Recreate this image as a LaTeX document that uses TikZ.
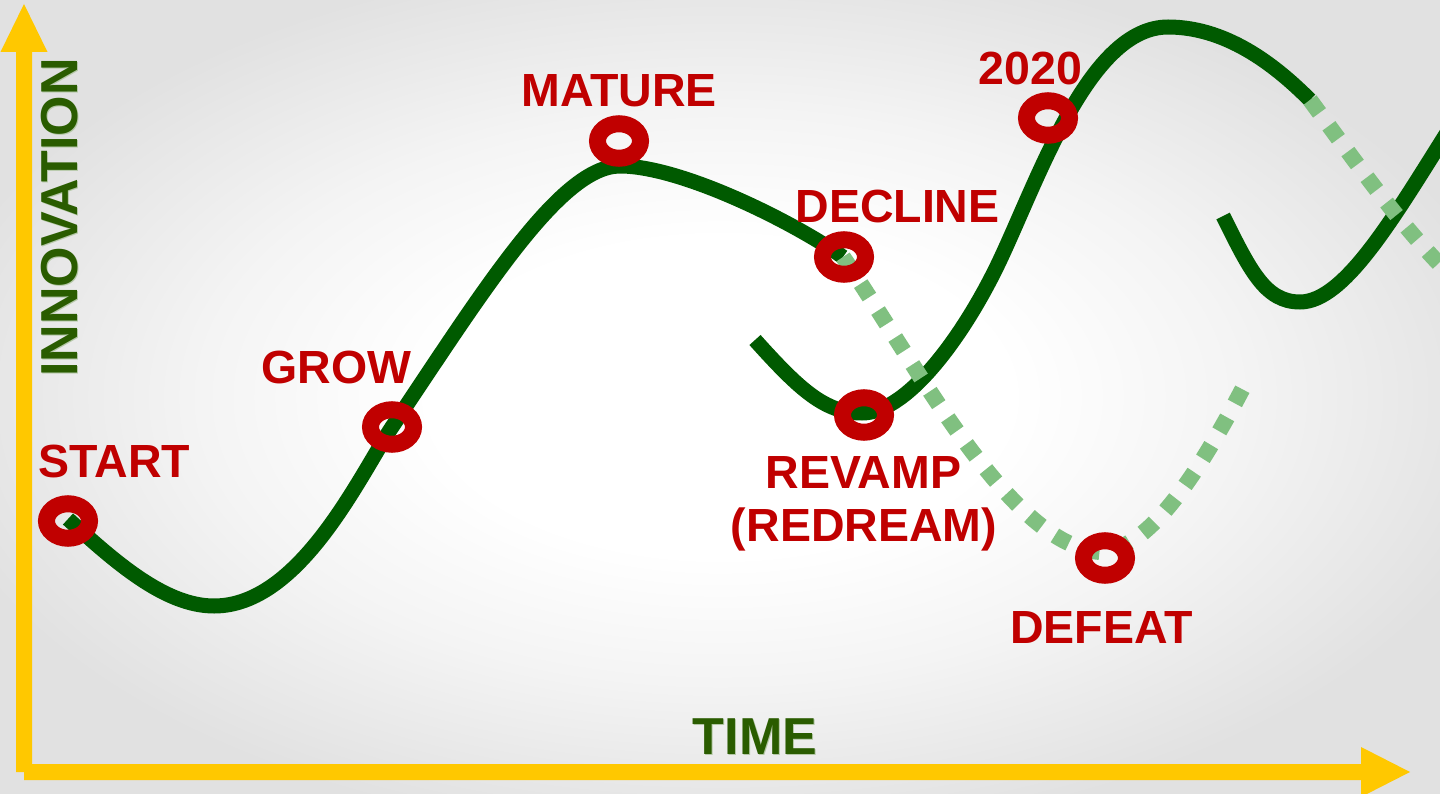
\documentclass[tikz,border=0pt]{standalone}
\usepackage{fontspec}
\setmainfont{Liberation Sans}
\usetikzlibrary{shapes.geometric}
\definecolor{bgedge}{HTML}{E1E1E1}
\definecolor{bgmid}{HTML}{F4F4F4}
\definecolor{axisyellow}{HTML}{FFC800}
\definecolor{curvegreen}{HTML}{005A00}
\definecolor{dotgreen}{HTML}{80C080}
\definecolor{labelred}{HTML}{C00000}
\definecolor{titlegreen}{HTML}{2A5C00}
\definecolor{titleshadow}{HTML}{B4C8A6}
\pgfdeclareradialshading{bgshade}{\pgfpoint{0bp}{0bp}}{color(0bp)=(white); color(10bp)=(white); color(18bp)=(bgmid); color(28bp)=(bgedge); color(50bp)=(bgedge)}
\tikzset{
  ring/.style={ellipse, draw=labelred, line width=17pt, minimum width=43pt, minimum height=34.5pt, inner sep=0pt},
  stage/.style={text=labelred, font=\bfseries\fontsize{46.5}{52}\selectfont, inner sep=0pt, anchor=base},
  axistitle/.style={text=titlegreen, font=\bfseries\fontsize{52}{56}\selectfont, inner sep=0pt},
  axistitleshadow/.style={text=titleshadow, font=\bfseries\fontsize{52}{56}\selectfont, inner sep=0pt},
  solidcurve/.style={draw=curvegreen, line width=15pt},
  dottedcurve/.style={draw=dotgreen, line width=16pt, dash pattern=on 16pt off 16pt}
}
\begin{document}
\begin{tikzpicture}[x=1pt, y=-1pt]
\useasboundingbox (0,0) rectangle (1440,794);
\clip (0,0) rectangle (1440,794);
\shade[shading=bgshade] (0,0) rectangle (1440,794);

% axes
\fill[axisyellow] (16,772) -- (16,52) -- (0.5,52) -- (24,4) -- (47.5,52) -- (32,52) -- (32,764)
  -- (1361,764) -- (1361,747) -- (1410,772) -- (1361,797) -- (1361,780) -- (24,780) -- (24,772) -- cycle;

% axis titles
\node[axistitleshadow, rotate=90] (innovshadow) at (60.5,218.5) {INNOVATION};
\node[axistitle, rotate=90] (innov) at (59.5,217.5) {INNOVATION};
\node[axistitleshadow] (timeshadow) at (756,737.5) {TIME};
\node[axistitle] (time) at (755,736.5) {TIME};

% solid curves
\path[solidcurve] (68,519) .. controls (115,562) and (165,606) .. (214,606)
  .. controls (300,606) and (360,475) .. (392,427)
  .. controls (482,293) and (560,166) .. (620,166)
  .. controls (680,166) and (790,220) .. (843,257);
\path[solidcurve] (755,340) .. controls (800,390) and (825,413) .. (862,413)
  .. controls (910,413) and (968,328) .. (1000,260)
  .. controls (1040,175) and (1090,27) .. (1168,27)
  .. controls (1230,27) and (1280,70) .. (1310,100);
\path[solidcurve] (1223,216) .. controls (1250,270) and (1265,302) .. (1300,302)
  .. controls (1345,302) and (1395,215) .. (1450,128);

% dotted curves
\path[dottedcurve] (843,257) .. controls (920,370) and (1010,545) .. (1100,552)
  .. controls (1150,550) and (1200,470) .. (1243,388);
\path[dottedcurve] (1310,100) .. controls (1360,168) and (1400,225) .. (1450,275);

% rings
\node[ring] (rstart) at (68,521) {};
\node[ring] (rgrow) at (392,427) {};
\node[ring] (rmature) at (619,141) {};
\node[ring] (rdecline) at (844,257) {};
\node[ring] (rrevamp) at (864,415) {};
\node[ring] (r2020) at (1048,118) {};
\node[ring] (rdefeat) at (1105,558) {};

% labels
\node[stage] (lstart) at (114.5,477) {START};
\node[stage] (lgrow) at (336.5,383) {GROW};
\node[stage] (lmature) at (619,107) {MATURE};
\node[stage] (ldecline) at (897.5,223) {DECLINE};
\node[stage] (l2020) at (1030.5,85) {2020};
\node[stage] (lrevamp) at (863.5,488) {REVAMP};
\node[stage] (lredream) at (864,541) {(REDREAM)};
\node[stage] (ldefeat) at (1101.5,643) {DEFEAT};
\end{tikzpicture}
\end{document}
